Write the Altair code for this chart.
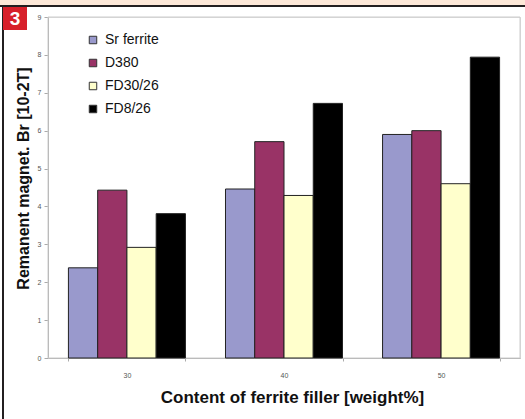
import altair as alt
import pandas as pd

contents = ["30", "40", "50"]
series = ["Sr ferrite", "D380", "FD30/26", "FD8/26"]
sr_ferrite = [2.38, 4.46, 5.90]
d380 = [4.43, 5.71, 6.00]
fd30_26 = [2.92, 4.29, 4.60]
fd8_26 = [3.81, 6.72, 7.94]
colors = ["#9999cc", "#993366", "#ffffcc", "#000000"]

rows = []
for s, vals in zip(series, [sr_ferrite, d380, fd30_26, fd8_26]):
    for c, v in zip(contents, vals):
        rows.append({"content": c, "series": s, "value": v})
df = pd.DataFrame(rows)

FONT = "Liberation Sans"

bars = alt.Chart(df).mark_bar(stroke="#222222", strokeWidth=1).encode(
    x=alt.X("content:N", sort=contents,
            scale=alt.Scale(paddingInner=0.255, paddingOuter=0.13),
            axis=alt.Axis(title="Content of ferrite filler [weight%]", labelAngle=0,
                          labelFontSize=7, labelColor="#555555", labelPadding=10,
                          tickBand="extent", tickSize=3, tickColor="#aaaaaa",
                          domainColor="#aaaaaa", titleFontSize=17, titleFontWeight="bold",
                          titleColor="#111111", titlePadding=11, titleX=244)),
    xOffset=alt.XOffset("series:N", sort=series, scale=alt.Scale(paddingInner=0, paddingOuter=0)),
    y=alt.Y("value:Q", scale=alt.Scale(domain=[0, 9], nice=False),
            axis=alt.Axis(title="Remanent magnet. Br [10-2T]", values=list(range(10)),
                          grid=False, labelFontSize=7, labelColor="#555555",
                          tickSize=4, tickColor="#aaaaaa", domainColor="#aaaaaa",
                          labelPadding=3, titleFontSize=16, titleFontWeight="bold",
                          titleColor="#111111", titlePadding=6, titleY=161)),
    color=alt.Color("series:N", sort=series,
                    scale=alt.Scale(domain=series, range=colors),
                    legend=alt.Legend(title=None, orient="none", legendX=38, legendY=16,
                                      symbolType="square", symbolSize=56,
                                      symbolStrokeColor="#333333", symbolStrokeWidth=1,
                                      labelFontSize=14, labelColor="#111111",
                                      rowPadding=9, labelOffset=5)),
)

one = pd.DataFrame({"k": [0]})
strip = alt.Chart(one).mark_rect(color="#fde8d8", clip=False).encode(
    x=alt.value(-48), x2=alt.value(477), y=alt.value(-17), y2=alt.value(-12))
topline = alt.Chart(one).mark_rect(color="#231f20", clip=False).encode(
    x=alt.value(-48), x2=alt.value(477), y=alt.value(-12), y2=alt.value(-10))
leftline = alt.Chart(one).mark_rect(color="#231f20", clip=False).encode(
    x=alt.value(-46), x2=alt.value(-44), y=alt.value(-11), y2=alt.value(402))
badge = alt.Chart(one).mark_rect(color="#d7202a", clip=False).encode(
    x=alt.value(-45), x2=alt.value(-21), y=alt.value(-10), y2=alt.value(13))
badge_txt = alt.Chart(one).mark_text(text="3", color="white", fontSize=19, fontWeight="bold",
                                     font=FONT, clip=False).encode(
    x=alt.value(-33), y=alt.value(2))
frame = alt.Chart(one).mark_rect(fill=None, stroke="#cccccc", strokeWidth=1).encode(
    x=alt.value(0), x2=alt.value(472), y=alt.value(0), y2=alt.value(341))

chart = alt.layer(frame, bars, strip, topline, leftline, badge, badge_txt).properties(
    width=472, height=341,
    padding={"left": 48, "top": 17, "right": 5, "bottom": 61},
    autosize=alt.AutoSizeParams(type="none"),
    background="white",
).configure_view(stroke=None).configure(font=FONT)

chart.save("out.html", embed_options={"renderer": "svg", "actions": False})
